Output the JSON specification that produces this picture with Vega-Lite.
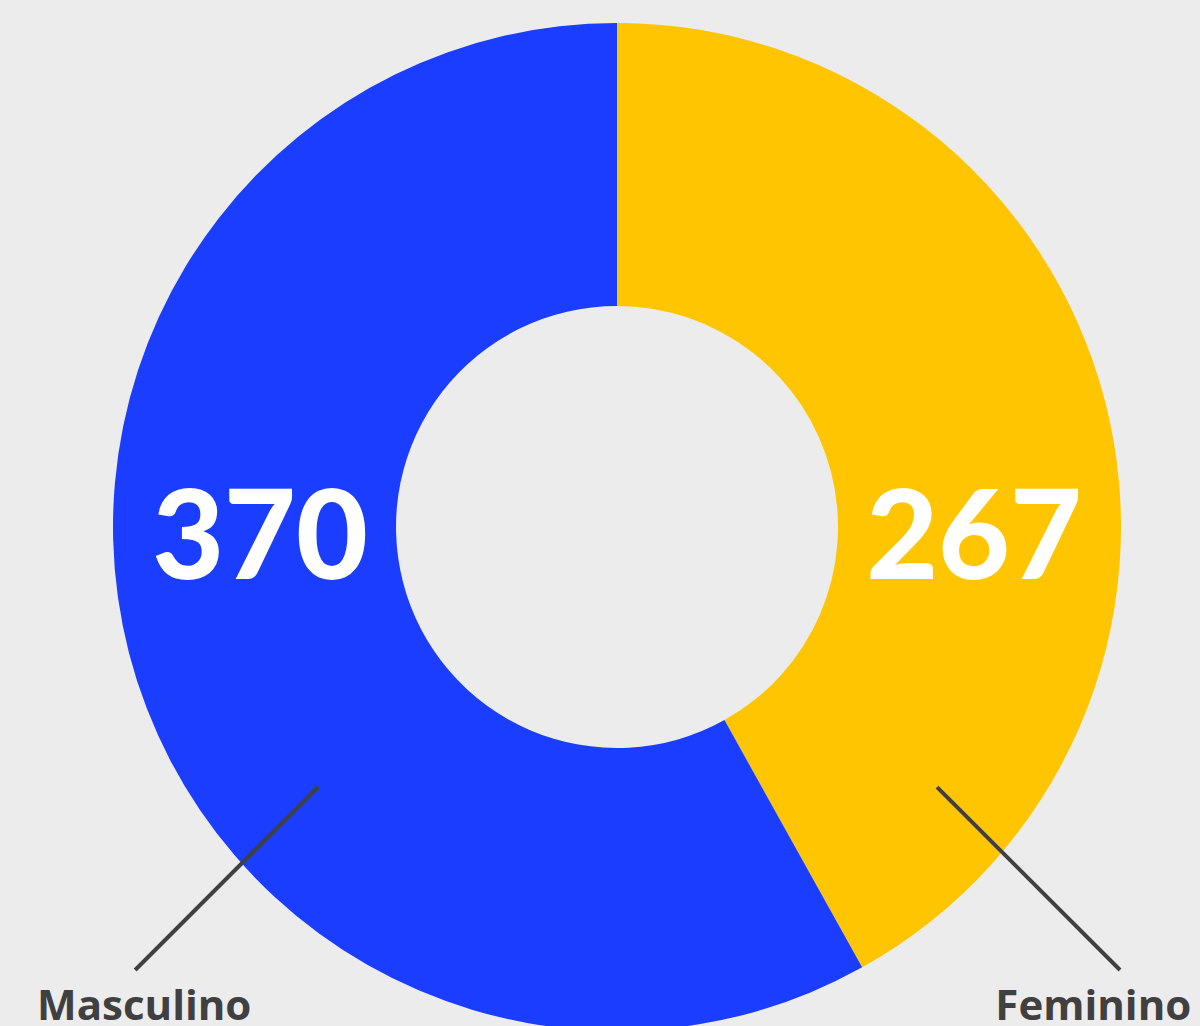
{
  "$schema": "https://vega.github.io/schema/vega-lite/v6.json",
  "autosize": {"type": "none"},
  "padding": {"left": 34, "top": 28, "right": 0, "bottom": 0},
  "width": 1166,
  "height": 998,
  "background": "#ECECEC",
  "config": {"view": {"stroke": null}},
  "data": {
    "values": [
      {"genero": "Feminino", "valor": 267},
      {"genero": "Masculino", "valor": 370}
    ]
  },
  "layer": [
    {
      "mark": {"type": "arc", "innerRadius": 221, "outerRadius": 504},
      "encoding": {
        "theta": {"field": "valor", "type": "quantitative", "stack": true},
        "color": {
          "field": "genero",
          "type": "nominal",
          "scale": {"domain": ["Feminino", "Masculino"], "range": ["#FFC500", "#1A3DFF"]},
          "legend": null
        }
      }
    },
    {
      "mark": {"type": "text", "radius": 357, "thetaOffset": 0.254, "yOffset": 15, "font": "Lato", "fontWeight": 900, "fontSize": 124, "color": "#FFFFFF", "align": "center", "baseline": "middle"},
      "encoding": {
        "theta": {"field": "valor", "type": "quantitative", "stack": true},
        "order": {"field": "genero", "type": "nominal"},
        "text": {"field": "valor", "type": "quantitative"}
      }
    },
    {
      "transform": [{"filter": "datum.genero === 'Masculino'"}],
      "mark": {"type": "rule", "color": "#404040", "strokeWidth": 4},
      "encoding": {
        "x": {"datum": -0.593, "type": "quantitative", "scale": {"domain": [-1.1567, 1.1567], "nice": false, "zero": false}, "axis": null},
        "y": {"datum": -0.516, "type": "quantitative", "scale": {"domain": [-0.9901, 0.9901], "nice": false, "zero": false}, "axis": null},
        "x2": {"datum": -0.956},
        "y2": {"datum": -0.879}
      }
    },
    {
      "transform": [{"filter": "datum.genero === 'Feminino'"}],
      "mark": {"type": "rule", "color": "#404040", "strokeWidth": 4},
      "encoding": {
        "x": {"datum": 0.635, "type": "quantitative"},
        "y": {"datum": -0.516, "type": "quantitative"},
        "x2": {"datum": 0.998},
        "y2": {"datum": -0.879}
      }
    },
    {
      "transform": [{"filter": "datum.genero === 'Masculino'"}],
      "mark": {"type": "text", "font": "Open Sans", "fontWeight": "bold", "fontSize": 42, "color": "#404040", "align": "center", "baseline": "alphabetic"},
      "encoding": {
        "x": {"datum": -0.938, "type": "quantitative"},
        "y": {"datum": -0.978, "type": "quantitative"},
        "text": {"field": "genero", "type": "nominal"}
      }
    },
    {
      "transform": [{"filter": "datum.genero === 'Feminino'"}],
      "mark": {"type": "text", "font": "Open Sans", "fontWeight": "bold", "fontSize": 42, "color": "#404040", "align": "center", "baseline": "alphabetic"},
      "encoding": {
        "x": {"datum": 0.945, "type": "quantitative"},
        "y": {"datum": -0.978, "type": "quantitative"},
        "text": {"field": "genero", "type": "nominal"}
      }
    }
  ]
}
